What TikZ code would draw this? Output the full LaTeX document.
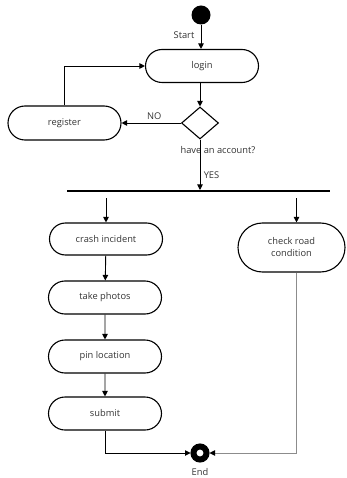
\documentclass[tikz,border=0pt]{standalone}
\usepackage{fontspec}
\setmainfont{Open Sans}
\definecolor{ink}{HTML}{000000}
\definecolor{label}{HTML}{333333}
\definecolor{wire}{HTML}{8C8C8C}
\usetikzlibrary{
  arrows.meta,
  positioning,
  calc,
  shapes.geometric,
  shapes.misc
}
\tikzset{
  >={Triangle[length=5.5pt,width=5.5pt]},
  every node/.style={font=\fontsize{9.3}{12}\selectfont, text=label},
  action/.style={
    rounded rectangle,
    draw=ink,
    line width=1.1pt,
    align=center,
    minimum width=115pt,
    minimum height=33pt,
    inner sep=1pt
  },
  decision/.style={diamond, draw=ink, line width=1.1pt, minimum width=37pt, minimum height=32pt, inner sep=0pt},
  startdot/.style={circle, fill=ink, minimum size=19pt, inner sep=0pt},
  enddot/.style={circle, draw=ink, fill=white, line width=6pt, minimum size=13pt, inner sep=0pt},
  forkbar/.style={rectangle, fill=ink, minimum width=263pt, minimum height=1.6pt, inner sep=0pt},
  arrow/.style={->, line width=0.9pt, draw=ink},
  greyarrow/.style={-{Triangle[length=5.5pt,width=5.5pt,color=ink]}, line width=0.9pt, draw=wire},
  annot/.style={text=label}
}
\begin{document}
\begin{tikzpicture}[x=1pt, y=-1pt]
  \useasboundingbox (0,0) rectangle (347,478);

  % Nodes
  \node[startdot] (start) at (201,15) {};
  \node[annot] (startlbl) at (184,35) {Start};
  \node[action] (login) at (202,66) {login};
  \node[decision] (account) at (200,123) {};
  \node[annot] (accountlbl) at (218,150) {have an account?};
  \node[action, minimum height=34pt] (register) at (64.5,123) {register};
  \node[forkbar] (fork) at (198.5,191) {};

  % Branches
  \node[action, minimum height=32pt] (crash) at (106,239) {crash incident};
  \node[action, minimum width=109pt, minimum height=49pt] (check) at (291.5,247.5) {check road\\condition};
  \node[action] (photos) at (105,297.5) {take photos};
  \node[action] (pin) at (105,356.5) {pin location};
  \node[action] (submit) at (105,413.5) {submit};
  \node[enddot] (end) at (200,453) {};
  \node[annot] (endlbl) at (200,472) {End};

  % Connectors
  \draw[arrow] (start.south) -- (start.south |- login.north);
  \draw[arrow] (login.south -| account.north) -- (account.north);
  \draw[arrow] (account.west) -- node[annot, above, pos=0.45] {NO} (register.east);
  \draw[arrow] (register.north) |- (login.west);
  \draw[arrow] (account.south) -- node[annot, right, pos=0.7] {YES} (account.south |- fork.north);

  \draw[arrow, shorten <=6pt] (fork.south -| crash.north) -- (crash.north);
  \draw[arrow, shorten <=6pt] (fork.south -| check.north) ++(5,0) coordinate (checktop) -- (checktop |- check.north);
  \draw[arrow] (crash) -- (photos);
  \draw[arrow] (photos) -- (pin);
  \draw[arrow] (pin) -- (submit);

  \draw[arrow] (submit.south) |- (end.west);
  \draw[greyarrow] ([xshift=5pt]check.south) |- (end.east);
\end{tikzpicture}
\end{document}
